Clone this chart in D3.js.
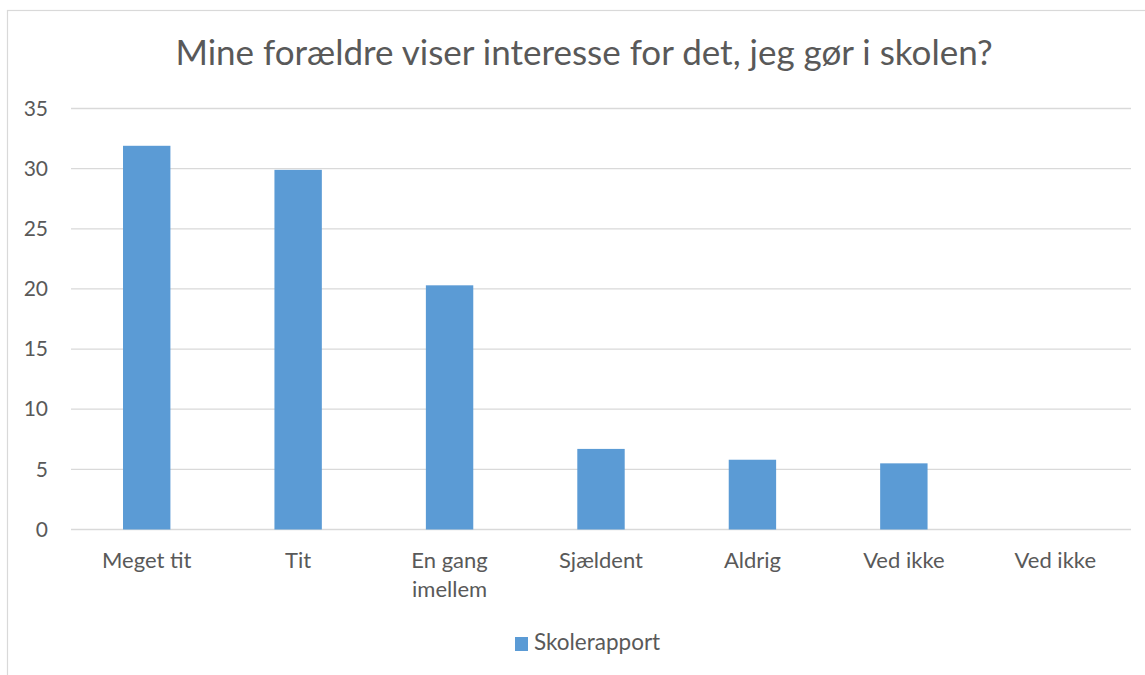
<!DOCTYPE html>
<html>
<head>
<meta charset="utf-8">
<script src="https://cdn.jsdelivr.net/npm/d3@7"></script>
<style>
  body { margin: 0; background: #fff; }
  svg text { font-family: Lato, "Open Sans", sans-serif; fill: #595959; }
</style>
</head>
<body>
<svg id="chart" width="1145" height="675"></svg>
<script>
// Survey answers, percent of respondents
const categories = ["Meget tit", "Tit", "En gang imellem", "Sjældent", "Aldrig", "Ved ikke", "Ved ikke "];
const values = [31.9, 29.9, 20.3, 6.7, 5.8, 5.5, 0];
const yTicks = [0, 5, 10, 15, 20, 25, 30, 35];
const seriesName = "Skolerapport";
const title = "Mine forældre viser interesse for det, jeg gør i skolen?";

const svg = d3.select("#chart");
const W = 1145, H = 675;
const plot = { left: 71, right: 1131, top: 108.5, bottom: 529.5 };

// chart frame
svg.append("rect")
  .attr("x", 7.5).attr("y", 10.5)
  .attr("width", W + 20).attr("height", H + 20)
  .attr("fill", "none").attr("stroke", "#d9d9d9").attr("stroke-width", 1.2);

svg.append("text")
  .attr("x", 584).attr("y", 65)
  .attr("text-anchor", "middle")
  .attr("font-size", 35)
  .text(title);

const x = d3.scaleBand().domain(categories).range([plot.left, plot.right]).paddingInner(0.687).paddingOuter(0.3435);
const y = d3.scaleLinear().domain([0, 35]).range([plot.bottom, plot.top]);

// gridlines
svg.append("g").selectAll("line").data(yTicks).join("line")
  .attr("x1", plot.left).attr("x2", plot.right)
  .attr("y1", d => y(d)).attr("y2", d => y(d))
  .attr("stroke", "#d9d9d9").attr("stroke-width", 1.3);

// y axis labels
const yAxis = svg.append("g")
  .attr("transform", `translate(${plot.left},0)`)
  .call(d3.axisLeft(y).tickValues(yTicks).tickSize(0).tickPadding(23));
yAxis.select(".domain").remove();
yAxis.selectAll("text").attr("font-size", 21).attr("font-family", "Lato, sans-serif").attr("fill", "#595959");

// bars
svg.append("g").selectAll("rect").data(values).join("rect")
  .attr("x", (d, i) => x(categories[i]))
  .attr("width", x.bandwidth())
  .attr("y", d => y(d))
  .attr("height", d => y(0) - y(d))
  .attr("fill", "#5b9bd5");

// category labels, wrapped to two lines where needed
const wrapWords = { "En gang imellem": ["En gang", "imellem"] };
const xAxis = svg.append("g").attr("font-size", 22);
categories.forEach(c => {
  const lines = wrapWords[c] || [c.trim()];
  const t = xAxis.append("text")
    .attr("x", x(c) + x.bandwidth() / 2)
    .attr("y", 568)
    .attr("text-anchor", "middle");
  lines.forEach((ln, k) => t.append("tspan")
    .attr("x", x(c) + x.bandwidth() / 2)
    .attr("dy", k === 0 ? 0 : 29)
    .text(ln));
});

// legend
const lg = svg.append("g");
lg.append("rect").attr("x", 515).attr("y", 637).attr("width", 13).attr("height", 14).attr("fill", "#5b9bd5");
lg.append("text").attr("x", 534).attr("y", 650).attr("font-size", 22.5).text(seriesName);
</script>
</body>
</html>
